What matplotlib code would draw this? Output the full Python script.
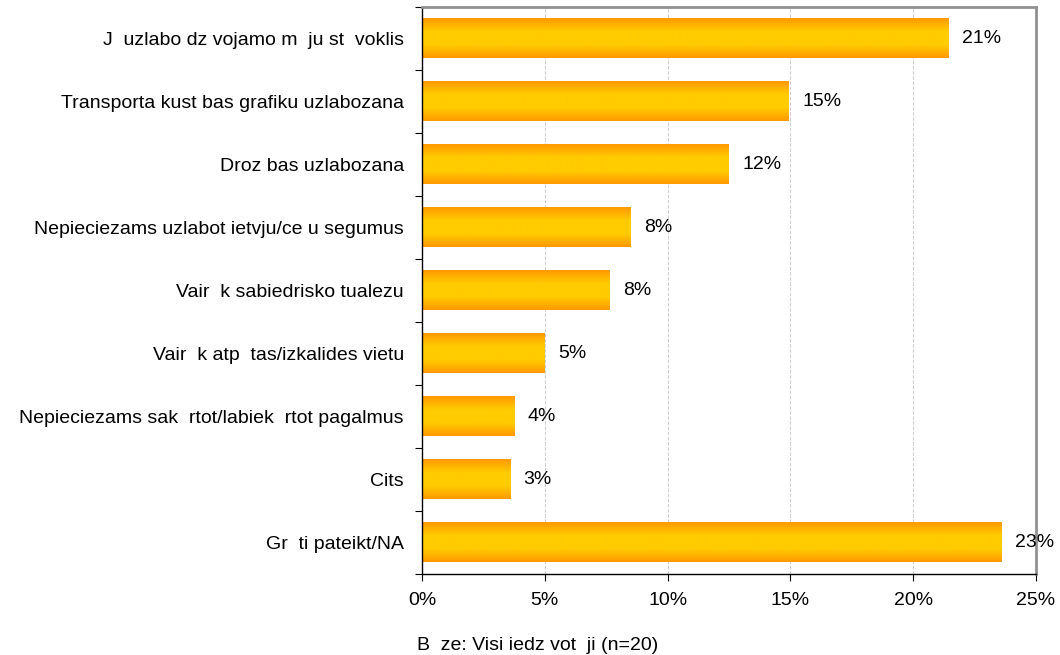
import numpy as np
import matplotlib.pyplot as plt
from matplotlib.colors import LinearSegmentedColormap
from matplotlib.ticker import FixedLocator, PercentFormatter

plt.rcParams['font.family'] = ['Liberation Sans', 'DejaVu Sans']

# Data
categories = [
    'J  uzlabo dz vojamo m  ju st  voklis',
    'Transporta kust bas grafiku uzlabozana',
    'Droz bas uzlabozana',
    'Nepieciezams uzlabot ietvju/ce u segumus',
    'Vair  k sabiedrisko tualezu',
    'Vair  k atp  tas/izkalides vietu',
    'Nepieciezams sak  rtot/labiek  rtot pagalmus',
    'Cits',
    'Gr  ti pateikt/NA',
]
values = [21.45, 14.93, 12.48, 8.48, 7.63, 4.98, 3.75, 3.59, 23.6]
value_labels = ['21%', '15%', '12%', '8%', '8%', '5%', '4%', '3%', '23%']
xticks = [0, 5, 10, 15, 20, 25]
footer = 'B  ze: Visi iedz vot  ji (n=20)'

fs = 14

fig = plt.figure(figsize=(10.6, 6.55), dpi=100)
ax = fig.add_axes([422 / 1060, 1 - 574 / 655, (1036 - 422) / 1060, (574 - 7) / 655])

# orange -> yellow -> orange gradient across the bar height
cmap = LinearSegmentedColormap.from_list('bar', ['#FF9900', '#FFCC00', '#FFCC00', '#FF9900'])
grad = np.linspace(0, 1, 100).reshape(-1, 1)

h = 0.62
y = np.arange(len(categories))
for yi, v, lab in zip(y, values, value_labels):
    ax.imshow(grad, cmap=cmap, aspect='auto', extent=(0, v, yi + h / 2, yi - h / 2),
              interpolation='bilinear', zorder=2)
    ax.text(v + 0.55, yi, lab, va='center', ha='left', fontsize=fs)

ax.set_xlim(0, 25)
ax.set_ylim(len(categories) - 0.5, -0.5)

ax.set_xticks(xticks)
ax.xaxis.set_major_formatter(PercentFormatter(decimals=0))
ax.set_yticks(y)
ax.set_yticklabels(categories)
ax.yaxis.set_minor_locator(FixedLocator(np.arange(-0.5, len(categories), 1)))
ax.tick_params(axis='y', which='major', length=0, pad=13, labelsize=fs)
ax.tick_params(axis='y', which='minor', length=5, width=0.8)
ax.tick_params(axis='x', length=5, width=0.8, labelsize=fs, pad=8)

ax.grid(axis='x', color='#cccccc', linestyle='--', linewidth=0.7, zorder=0)
ax.set_axisbelow(True)

for side in ['top', 'right']:
    ax.spines[side].set_color('#909090')
    ax.spines[side].set_linewidth(2)
for side in ['left', 'bottom']:
    ax.spines[side].set_color('black')
    ax.spines[side].set_linewidth(1)

fig.text(417 / 1060, 1 - 645 / 655, footer, ha='left', va='center', fontsize=fs)

fig.savefig('out.png', dpi=100)
